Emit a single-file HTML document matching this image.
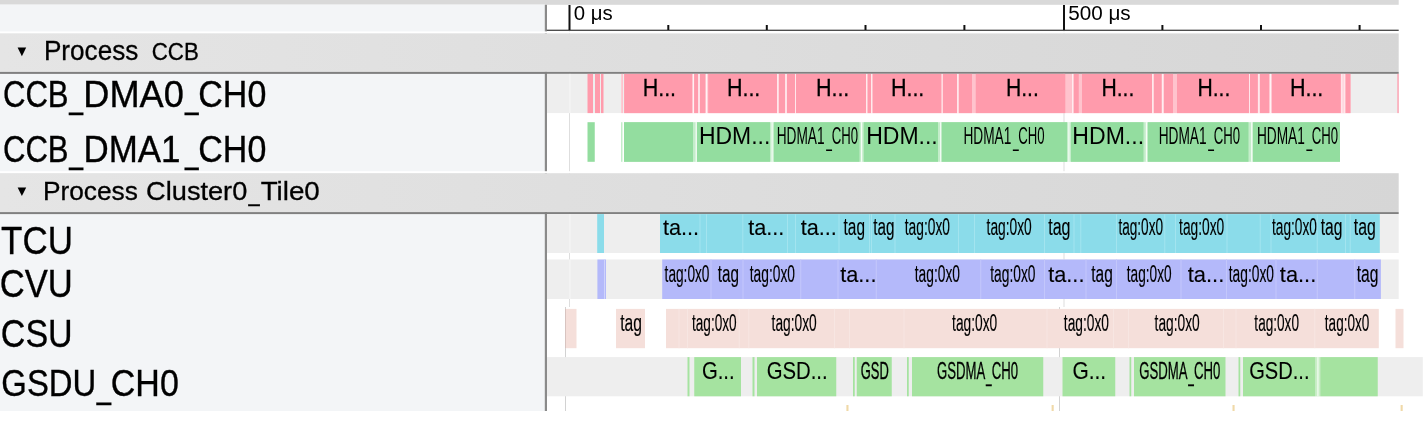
<!DOCTYPE html>
<html><head><meta charset="utf-8"><title>Trace viewer</title>
<style>
html,body{margin:0;padding:0;background:#fff;}
body{width:1428px;height:431px;overflow:hidden;}
svg{display:block;font-family:"Liberation Sans",sans-serif;}
</style></head><body>
<svg width="1428" height="431" viewBox="0 0 1428 431">
<rect x="0.00" y="0.00" width="1398.70" height="4.80" fill="#d9d9d9"/>
<rect x="0.00" y="4.50" width="545.00" height="406.50" fill="#f3f5f7"/>
<rect x="569.00" y="31.00" width="1.00" height="276.00" fill="#dedede"/>
<rect x="1063.50" y="31.00" width="1.00" height="276.00" fill="#dedede"/>
<rect x="565.00" y="307.00" width="1.00" height="104.00" fill="#d2d2d2"/>
<rect x="1059.00" y="307.00" width="1.00" height="104.00" fill="#d2d2d2"/>
<rect x="544.80" y="4.80" width="2.20" height="406.20" fill="#8a8a8a"/>
<rect x="546.75" y="29.70" width="851.95" height="1.10" fill="#222"/>
<rect x="568.50" y="5.00" width="2.00" height="25.00" fill="#111"/>
<rect x="1063.00" y="5.00" width="2.00" height="25.00" fill="#111"/>
<rect x="667.30" y="25.00" width="2.00" height="5.00" fill="#111"/>
<rect x="765.80" y="25.00" width="2.00" height="5.00" fill="#111"/>
<rect x="864.50" y="25.00" width="2.00" height="5.00" fill="#111"/>
<rect x="963.40" y="25.00" width="2.00" height="5.00" fill="#111"/>
<rect x="1161.40" y="25.00" width="2.00" height="5.00" fill="#111"/>
<rect x="1260.00" y="25.00" width="2.00" height="5.00" fill="#111"/>
<rect x="1358.60" y="25.00" width="2.00" height="5.00" fill="#111"/>
<text transform="translate(573.73,19.50) scale(1.0168,1)" font-size="20.07" fill="#000">0 μs</text>
<text transform="translate(1068.17,19.50) scale(1.0311,1)" font-size="20.07" fill="#000">500 μs</text>
<defs><linearGradient id="hg" gradientUnits="userSpaceOnUse" x1="0" y1="0" x2="1870" y2="0"><stop offset="0" stop-color="#e5e5e5"/><stop offset="1" stop-color="#d1d1d1"/></linearGradient></defs>
<rect x="0.00" y="31.40" width="1398.70" height="2.00" fill="#fff"/>
<rect x="0" y="33.4" width="1398.7" height="38.50000000000001" fill="url(#hg)"/>
<rect x="0.00" y="71.90" width="1398.70" height="2.00" fill="#808080"/>
<rect x="0.00" y="171.20" width="1398.70" height="2.00" fill="#fff"/>
<rect x="0" y="173.2" width="1398.7" height="38.900000000000006" fill="url(#hg)"/>
<rect x="0.00" y="212.10" width="1398.70" height="2.00" fill="#808080"/>
<polygon points="17.6,47.6 26.2,47.6 21.9,56.2" fill="#000"/>
<polygon points="17.6,187.5 26.2,187.5 21.9,196.1" fill="#000"/>
<text transform="translate(43.91,60.30) scale(0.9670,1)" font-size="27.05" fill="#000" stroke="#000" stroke-width="0.3">Process</text>
<text transform="translate(151.79,60.00) scale(0.9231,1)" font-size="24.15" fill="#000" stroke="#000" stroke-width="0.3">CCB</text>
<text y="200.00" font-size="26.18" fill="#000" stroke="#000" stroke-width="0.3"><tspan x="42.90" textLength="102.33" lengthAdjust="spacingAndGlyphs">Process </tspan><tspan x="146.14" textLength="101.16" lengthAdjust="spacingAndGlyphs">Cluster0</tspan><tspan x="248.60" dy="1.40" textLength="11.17" lengthAdjust="spacingAndGlyphs">_</tspan><tspan x="260.70" dy="-1.40" textLength="59.11" lengthAdjust="spacingAndGlyphs">Tile0</tspan></text>
<text y="107.00" font-size="36.36" fill="#000" stroke="#000" stroke-width="0.35"><tspan x="2.95" textLength="65.65" lengthAdjust="spacingAndGlyphs">CCB</tspan><tspan x="69.18" dy="1.20" textLength="13.79" lengthAdjust="spacingAndGlyphs">_</tspan><tspan x="83.36" dy="-1.20" textLength="100.53" lengthAdjust="spacingAndGlyphs">DMA0</tspan><tspan x="184.93" dy="1.20" textLength="13.55" lengthAdjust="spacingAndGlyphs">_</tspan><tspan x="198.30" dy="-1.20" textLength="67.99" lengthAdjust="spacingAndGlyphs">CH0</tspan></text>
<text y="162.20" font-size="36.95" fill="#000" stroke="#000" stroke-width="0.35"><tspan x="2.95" textLength="65.65" lengthAdjust="spacingAndGlyphs">CCB</tspan><tspan x="69.18" dy="1.20" textLength="13.79" lengthAdjust="spacingAndGlyphs">_</tspan><tspan x="83.46" dy="-1.20" textLength="96.98" lengthAdjust="spacingAndGlyphs">DMA1</tspan><tspan x="184.93" dy="1.20" textLength="13.55" lengthAdjust="spacingAndGlyphs">_</tspan><tspan x="198.30" dy="-1.20" textLength="67.99" lengthAdjust="spacingAndGlyphs">CH0</tspan></text>
<text transform="translate(1.10,254.00) scale(0.8834,1)" font-size="39.56" fill="#000" stroke="#000" stroke-width="0.35">TCU</text>
<text transform="translate(-0.23,297.00) scale(0.8981,1)" font-size="38.55" fill="#000" stroke="#000" stroke-width="0.35">CVU</text>
<text transform="translate(0.80,346.80) scale(0.8641,1)" font-size="39.42" fill="#000" stroke="#000" stroke-width="0.35">CSU</text>
<text y="396.40" font-size="37.67" fill="#000" stroke="#000" stroke-width="0.35"><tspan x="1.36" textLength="94.83" lengthAdjust="spacingAndGlyphs">GSDU</tspan><tspan x="96.70" dy="1.30" textLength="14.26" lengthAdjust="spacingAndGlyphs">_</tspan><tspan x="110.80" dy="-1.30" textLength="67.99" lengthAdjust="spacingAndGlyphs">CH0</tspan></text>
<rect x="547.00" y="73.90" width="851.70" height="39.20" fill="#eeeeee"/>
<rect x="569.30" y="73.90" width="1.20" height="39.20" fill="#f6f6f6"/>
<rect x="1063.40" y="73.90" width="1.20" height="39.20" fill="#f6f6f6"/>
<rect x="624.00" y="73.90" width="726.50" height="39.20" fill="#ffc3cd"/>
<rect x="621.25" y="73.90" width="1.75" height="39.20" fill="#ffc3cd"/>
<rect x="587.50" y="73.90" width="5.50" height="39.20" fill="#ff9bac"/>
<rect x="595.00" y="73.90" width="5.00" height="39.20" fill="#ff9bac"/>
<rect x="601.00" y="73.90" width="2.50" height="39.20" fill="#ff9bac"/>
<rect x="624.20" y="73.90" width="68.20" height="39.20" fill="#ff9bac"/>
<rect x="694.20" y="73.90" width="3.90" height="39.20" fill="#ff9bac"/>
<rect x="699.90" y="73.90" width="5.20" height="39.20" fill="#ff9bac"/>
<rect x="708.20" y="73.90" width="68.80" height="39.20" fill="#ff9bac"/>
<rect x="778.75" y="73.90" width="6.25" height="39.20" fill="#ff9bac"/>
<rect x="787.00" y="73.90" width="8.00" height="39.20" fill="#ff9bac"/>
<rect x="796.00" y="73.90" width="70.00" height="39.20" fill="#ff9bac"/>
<rect x="867.50" y="73.90" width="3.50" height="39.20" fill="#ff9bac"/>
<rect x="872.50" y="73.90" width="69.00" height="39.20" fill="#ff9bac"/>
<rect x="942.75" y="73.90" width="14.25" height="39.20" fill="#ff9bac"/>
<rect x="958.75" y="73.90" width="13.25" height="39.20" fill="#ff9bac"/>
<rect x="975.75" y="73.90" width="89.55" height="39.20" fill="#ff9bac"/>
<rect x="1073.50" y="73.90" width="5.25" height="39.20" fill="#ff9bac"/>
<rect x="1082.00" y="73.90" width="70.00" height="39.20" fill="#ff9bac"/>
<rect x="1153.75" y="73.90" width="7.75" height="39.20" fill="#ff9bac"/>
<rect x="1164.00" y="73.90" width="9.00" height="39.20" fill="#ff9bac"/>
<rect x="1177.00" y="73.90" width="72.00" height="39.20" fill="#ff9bac"/>
<rect x="1250.00" y="73.90" width="7.75" height="39.20" fill="#ff9bac"/>
<rect x="1260.00" y="73.90" width="9.00" height="39.20" fill="#ff9bac"/>
<rect x="1272.00" y="73.90" width="68.90" height="39.20" fill="#ff9bac"/>
<rect x="1345.30" y="73.90" width="5.20" height="39.20" fill="#ff9bac"/>
<rect x="1397.40" y="73.90" width="1.30" height="39.20" fill="#ff9bac"/>
<rect x="1072.20" y="73.90" width="1.20" height="39.20" fill="#fff" opacity="0.85"/>
<rect x="1340.90" y="73.90" width="4.40" height="39.20" fill="#ffe6ea"/>
<rect x="1342.70" y="73.90" width="0.80" height="39.20" fill="#ffc8d1"/>
<rect x="692.65" y="73.90" width="1.30" height="39.20" fill="#fff" opacity="0.8"/>
<rect x="698.35" y="73.90" width="1.30" height="39.20" fill="#fff" opacity="0.8"/>
<rect x="706.00" y="73.90" width="1.30" height="39.20" fill="#fff" opacity="0.8"/>
<rect x="777.23" y="73.90" width="1.30" height="39.20" fill="#fff" opacity="0.8"/>
<rect x="785.35" y="73.90" width="1.30" height="39.20" fill="#fff" opacity="0.8"/>
<rect x="795.12" y="73.90" width="0.75" height="39.20" fill="#fff" opacity="0.8"/>
<rect x="866.19" y="73.90" width="1.12" height="39.20" fill="#fff" opacity="0.8"/>
<rect x="871.19" y="73.90" width="1.12" height="39.20" fill="#fff" opacity="0.8"/>
<rect x="941.66" y="73.90" width="0.94" height="39.20" fill="#fff" opacity="0.8"/>
<rect x="957.23" y="73.90" width="1.30" height="39.20" fill="#fff" opacity="0.8"/>
<rect x="1152.22" y="73.90" width="1.30" height="39.20" fill="#fff" opacity="0.8"/>
<rect x="1162.10" y="73.90" width="1.30" height="39.20" fill="#fff" opacity="0.8"/>
<rect x="1249.12" y="73.90" width="0.75" height="39.20" fill="#fff" opacity="0.8"/>
<rect x="1258.22" y="73.90" width="1.30" height="39.20" fill="#fff" opacity="0.8"/>
<rect x="1269.85" y="73.90" width="1.30" height="39.20" fill="#fff" opacity="0.8"/>
<text transform="translate(642.63,96.00) scale(0.8753,1)" font-size="24.58" fill="#000" stroke="#000" stroke-width="0.25">H...</text>
<text transform="translate(726.88,96.00) scale(0.8753,1)" font-size="24.58" fill="#000" stroke="#000" stroke-width="0.25">H...</text>
<text transform="translate(815.88,96.00) scale(0.8753,1)" font-size="24.58" fill="#000" stroke="#000" stroke-width="0.25">H...</text>
<text transform="translate(890.88,96.00) scale(0.8753,1)" font-size="24.58" fill="#000" stroke="#000" stroke-width="0.25">H...</text>
<text transform="translate(1005.91,96.00) scale(0.8606,1)" font-size="24.58" fill="#000" stroke="#000" stroke-width="0.25">H...</text>
<text transform="translate(1101.41,96.00) scale(0.8606,1)" font-size="24.58" fill="#000" stroke="#000" stroke-width="0.25">H...</text>
<text transform="translate(1197.41,96.00) scale(0.8606,1)" font-size="24.58" fill="#000" stroke="#000" stroke-width="0.25">H...</text>
<text transform="translate(1289.88,96.00) scale(0.8753,1)" font-size="24.58" fill="#000" stroke="#000" stroke-width="0.25">H...</text>
<rect x="621.00" y="122.20" width="1.50" height="39.60" fill="#c4edca"/>
<rect x="624.00" y="122.20" width="716.00" height="39.60" fill="#c4edca"/>
<rect x="587.50" y="122.20" width="7.25" height="39.60" fill="#93dd9f"/>
<rect x="624.00" y="122.20" width="69.00" height="39.60" fill="#93dd9f"/>
<rect x="697.00" y="122.20" width="73.00" height="39.60" fill="#93dd9f"/>
<rect x="774.00" y="122.20" width="85.50" height="39.60" fill="#93dd9f"/>
<rect x="863.75" y="122.20" width="74.25" height="39.60" fill="#93dd9f"/>
<rect x="941.50" y="122.20" width="125.50" height="39.60" fill="#93dd9f"/>
<rect x="1071.00" y="122.20" width="72.50" height="39.60" fill="#93dd9f"/>
<rect x="1148.00" y="122.20" width="100.50" height="39.60" fill="#93dd9f"/>
<rect x="1253.00" y="122.20" width="87.00" height="39.60" fill="#93dd9f"/>
<text transform="translate(698.97,143.90) scale(0.9669,1)" font-size="23.71" fill="#000">HDM...</text>
<text transform="translate(866.16,143.90) scale(0.9712,1)" font-size="23.71" fill="#000">HDM...</text>
<text transform="translate(1072.36,143.90) scale(0.9727,1)" font-size="23.71" fill="#000">HDM...</text>
<text y="143.90" font-size="24.44" fill="#000"><tspan x="776.71" textLength="47.85" lengthAdjust="spacingAndGlyphs">HDMA1</tspan><tspan x="826.18" dy="1.80" textLength="5.70" lengthAdjust="spacingAndGlyphs">_</tspan><tspan x="831.64" dy="-1.80" textLength="26.36" lengthAdjust="spacingAndGlyphs">CH0</tspan></text>
<text y="143.90" font-size="24.44" fill="#000"><tspan x="963.41" textLength="47.85" lengthAdjust="spacingAndGlyphs">HDMA1</tspan><tspan x="1012.88" dy="1.80" textLength="5.70" lengthAdjust="spacingAndGlyphs">_</tspan><tspan x="1018.34" dy="-1.80" textLength="26.36" lengthAdjust="spacingAndGlyphs">CH0</tspan></text>
<text y="143.90" font-size="24.44" fill="#000"><tspan x="1158.71" textLength="47.85" lengthAdjust="spacingAndGlyphs">HDMA1</tspan><tspan x="1208.18" dy="1.80" textLength="5.70" lengthAdjust="spacingAndGlyphs">_</tspan><tspan x="1213.64" dy="-1.80" textLength="26.36" lengthAdjust="spacingAndGlyphs">CH0</tspan></text>
<text y="143.90" font-size="24.44" fill="#000"><tspan x="1256.91" textLength="47.85" lengthAdjust="spacingAndGlyphs">HDMA1</tspan><tspan x="1306.38" dy="1.80" textLength="5.70" lengthAdjust="spacingAndGlyphs">_</tspan><tspan x="1311.84" dy="-1.80" textLength="26.36" lengthAdjust="spacingAndGlyphs">CH0</tspan></text>
<rect x="695.60" y="122.20" width="1.20" height="39.60" fill="#fff" opacity="0.85"/>
<rect x="771.50" y="122.20" width="1.20" height="39.60" fill="#fff" opacity="0.85"/>
<rect x="861.00" y="122.20" width="1.20" height="39.60" fill="#fff" opacity="0.85"/>
<rect x="940.10" y="122.20" width="1.20" height="39.60" fill="#fff" opacity="0.85"/>
<rect x="1068.30" y="122.20" width="1.20" height="39.60" fill="#fff" opacity="0.85"/>
<rect x="1145.80" y="122.20" width="1.20" height="39.60" fill="#fff" opacity="0.85"/>
<rect x="1251.10" y="122.20" width="1.20" height="39.60" fill="#fff" opacity="0.85"/>
<rect x="547.00" y="214.10" width="851.70" height="38.90" fill="#eeeeee"/>
<rect x="569.30" y="214.10" width="1.20" height="38.90" fill="#f6f6f6"/>
<rect x="1063.40" y="214.10" width="1.20" height="38.90" fill="#f6f6f6"/>
<rect x="597.20" y="214.10" width="6.80" height="38.90" fill="#8bdcea"/>
<rect x="660.00" y="214.10" width="719.80" height="38.90" fill="#8bdcea"/>
<rect x="699.50" y="214.10" width="1.00" height="38.90" fill="#a3e4ef"/>
<rect x="706.00" y="214.10" width="1.00" height="38.90" fill="#a3e4ef"/>
<rect x="742.30" y="214.10" width="1.00" height="38.90" fill="#a3e4ef"/>
<rect x="787.00" y="214.10" width="1.00" height="38.90" fill="#a3e4ef"/>
<rect x="795.00" y="214.10" width="1.00" height="38.90" fill="#a3e4ef"/>
<rect x="838.50" y="214.10" width="1.00" height="38.90" fill="#a3e4ef"/>
<rect x="869.00" y="214.10" width="1.00" height="38.90" fill="#a3e4ef"/>
<rect x="871.00" y="214.10" width="1.00" height="38.90" fill="#a3e4ef"/>
<rect x="894.50" y="214.10" width="1.00" height="38.90" fill="#a3e4ef"/>
<rect x="958.00" y="214.10" width="1.00" height="38.90" fill="#a3e4ef"/>
<rect x="974.00" y="214.10" width="1.00" height="38.90" fill="#a3e4ef"/>
<rect x="1044.00" y="214.10" width="1.00" height="38.90" fill="#a3e4ef"/>
<rect x="1073.50" y="214.10" width="1.00" height="38.90" fill="#a3e4ef"/>
<rect x="1080.25" y="214.10" width="1.00" height="38.90" fill="#a3e4ef"/>
<rect x="1116.00" y="214.10" width="1.00" height="38.90" fill="#a3e4ef"/>
<rect x="1164.25" y="214.10" width="1.00" height="38.90" fill="#a3e4ef"/>
<rect x="1175.00" y="214.10" width="1.00" height="38.90" fill="#a3e4ef"/>
<rect x="1226.50" y="214.10" width="1.00" height="38.90" fill="#a3e4ef"/>
<rect x="1259.75" y="214.10" width="1.00" height="38.90" fill="#a3e4ef"/>
<rect x="1270.50" y="214.10" width="1.00" height="38.90" fill="#a3e4ef"/>
<rect x="1316.75" y="214.10" width="1.00" height="38.90" fill="#a3e4ef"/>
<rect x="1345.00" y="214.10" width="1.00" height="38.90" fill="#a3e4ef"/>
<rect x="1349.75" y="214.10" width="1.00" height="38.90" fill="#a3e4ef"/>
<text transform="translate(662.97,235.00) scale(0.9663,1)" font-size="22.45" fill="#000" stroke="#000" stroke-width="0.12">ta...</text>
<text transform="translate(748.17,235.00) scale(0.9663,1)" font-size="22.45" fill="#000" stroke="#000" stroke-width="0.12">ta...</text>
<text transform="translate(800.67,235.00) scale(0.9663,1)" font-size="22.45" fill="#000" stroke="#000" stroke-width="0.12">ta...</text>
<text transform="translate(843.57,234.90) scale(0.6428,1)" font-size="23.94" fill="#000" stroke="#000" stroke-width="0.15">tag</text>
<text transform="translate(873.27,234.90) scale(0.6364,1)" font-size="23.94" fill="#000" stroke="#000" stroke-width="0.15">tag</text>
<text transform="translate(1048.26,234.90) scale(0.6683,1)" font-size="23.94" fill="#000" stroke="#000" stroke-width="0.15">tag</text>
<text transform="translate(1320.77,234.90) scale(0.6524,1)" font-size="23.94" fill="#000" stroke="#000" stroke-width="0.15">tag</text>
<text transform="translate(1353.76,234.90) scale(0.6603,1)" font-size="23.94" fill="#000" stroke="#000" stroke-width="0.15">tag</text>
<text transform="translate(904.79,234.90) scale(0.5759,1)" font-size="23.94" fill="#000" stroke="#000" stroke-width="0.15">tag:0x0</text>
<text transform="translate(986.59,234.90) scale(0.5759,1)" font-size="23.94" fill="#000" stroke="#000" stroke-width="0.15">tag:0x0</text>
<text transform="translate(1118.40,234.90) scale(0.5694,1)" font-size="23.94" fill="#000" stroke="#000" stroke-width="0.15">tag:0x0</text>
<text transform="translate(1179.09,234.90) scale(0.5759,1)" font-size="23.94" fill="#000" stroke="#000" stroke-width="0.15">tag:0x0</text>
<text transform="translate(1271.99,234.90) scale(0.5720,1)" font-size="23.94" fill="#000" stroke="#000" stroke-width="0.15">tag:0x0</text>
<rect x="547.00" y="259.50" width="851.70" height="39.50" fill="#eeeeee"/>
<rect x="569.30" y="259.50" width="1.20" height="39.50" fill="#f6f6f6"/>
<rect x="1063.40" y="259.50" width="1.20" height="39.50" fill="#f6f6f6"/>
<rect x="597.40" y="259.50" width="8.60" height="39.50" fill="#b4b9fa"/>
<rect x="604.00" y="259.50" width="0.90" height="39.50" fill="#d3d6fc"/>
<rect x="662.20" y="259.50" width="718.70" height="39.50" fill="#b4b9fa"/>
<rect x="710.50" y="259.50" width="1.00" height="39.50" fill="#c3c7fb"/>
<rect x="742.50" y="259.50" width="1.00" height="39.50" fill="#c3c7fb"/>
<rect x="800.25" y="259.50" width="1.00" height="39.50" fill="#c3c7fb"/>
<rect x="837.50" y="259.50" width="1.00" height="39.50" fill="#c3c7fb"/>
<rect x="875.75" y="259.50" width="1.00" height="39.50" fill="#c3c7fb"/>
<rect x="980.25" y="259.50" width="1.00" height="39.50" fill="#c3c7fb"/>
<rect x="1044.00" y="259.50" width="1.00" height="39.50" fill="#c3c7fb"/>
<rect x="1085.50" y="259.50" width="1.00" height="39.50" fill="#c3c7fb"/>
<rect x="1116.00" y="259.50" width="1.00" height="39.50" fill="#c3c7fb"/>
<rect x="1180.50" y="259.50" width="1.00" height="39.50" fill="#c3c7fb"/>
<rect x="1226.00" y="259.50" width="1.00" height="39.50" fill="#c3c7fb"/>
<rect x="1275.50" y="259.50" width="1.00" height="39.50" fill="#c3c7fb"/>
<rect x="1316.75" y="259.50" width="1.00" height="39.50" fill="#c3c7fb"/>
<rect x="1354.25" y="259.50" width="1.00" height="39.50" fill="#c3c7fb"/>
<text transform="translate(840.17,281.90) scale(0.9867,1)" font-size="22.05" fill="#000" stroke="#000" stroke-width="0.12">ta...</text>
<text transform="translate(1048.17,281.90) scale(0.9867,1)" font-size="22.05" fill="#000" stroke="#000" stroke-width="0.12">ta...</text>
<text transform="translate(1187.67,281.90) scale(0.9954,1)" font-size="22.05" fill="#000" stroke="#000" stroke-width="0.12">ta...</text>
<text transform="translate(1279.87,281.90) scale(0.9896,1)" font-size="22.05" fill="#000" stroke="#000" stroke-width="0.12">ta...</text>
<text transform="translate(717.77,281.80) scale(0.6481,1)" font-size="23.51" fill="#000" stroke="#000" stroke-width="0.15">tag</text>
<text transform="translate(1091.27,281.80) scale(0.6578,1)" font-size="23.51" fill="#000" stroke="#000" stroke-width="0.15">tag</text>
<text transform="translate(1356.77,281.80) scale(0.6643,1)" font-size="23.51" fill="#000" stroke="#000" stroke-width="0.15">tag</text>
<text transform="translate(664.59,281.80) scale(0.5824,1)" font-size="23.51" fill="#000" stroke="#000" stroke-width="0.15">tag:0x0</text>
<text transform="translate(749.79,281.80) scale(0.5864,1)" font-size="23.51" fill="#000" stroke="#000" stroke-width="0.15">tag:0x0</text>
<text transform="translate(914.79,281.80) scale(0.5864,1)" font-size="23.51" fill="#000" stroke="#000" stroke-width="0.15">tag:0x0</text>
<text transform="translate(990.29,281.80) scale(0.5864,1)" font-size="23.51" fill="#000" stroke="#000" stroke-width="0.15">tag:0x0</text>
<text transform="translate(1126.80,281.80) scale(0.5811,1)" font-size="23.51" fill="#000" stroke="#000" stroke-width="0.15">tag:0x0</text>
<text transform="translate(1228.79,281.80) scale(0.5864,1)" font-size="23.51" fill="#000" stroke="#000" stroke-width="0.15">tag:0x0</text>
<rect x="565.00" y="308.90" width="11.50" height="39.30" fill="#f5dfda"/>
<rect x="616.00" y="308.90" width="29.00" height="39.30" fill="#f5dfda"/>
<rect x="666.00" y="308.90" width="712.80" height="39.30" fill="#f5dfda"/>
<rect x="1395.50" y="308.90" width="8.00" height="39.30" fill="#f5dfda"/>
<rect x="565.00" y="308.90" width="1.00" height="39.30" fill="#d8c4c0"/>
<rect x="678.50" y="308.90" width="1.00" height="39.30" fill="#f7e6e2"/>
<rect x="687.00" y="308.90" width="1.00" height="39.30" fill="#f7e6e2"/>
<rect x="738.75" y="308.90" width="1.00" height="39.30" fill="#f7e6e2"/>
<rect x="748.25" y="308.90" width="1.00" height="39.30" fill="#f7e6e2"/>
<rect x="834.00" y="308.90" width="1.00" height="39.30" fill="#f7e6e2"/>
<rect x="849.00" y="308.90" width="1.00" height="39.30" fill="#f7e6e2"/>
<rect x="903.50" y="308.90" width="1.00" height="39.30" fill="#f7e6e2"/>
<rect x="1046.50" y="308.90" width="1.00" height="39.30" fill="#f7e6e2"/>
<rect x="1113.00" y="308.90" width="1.00" height="39.30" fill="#f7e6e2"/>
<rect x="1128.00" y="308.90" width="1.00" height="39.30" fill="#f7e6e2"/>
<rect x="1223.00" y="308.90" width="1.00" height="39.30" fill="#f7e6e2"/>
<rect x="1235.50" y="308.90" width="1.00" height="39.30" fill="#f7e6e2"/>
<rect x="1314.25" y="308.90" width="1.00" height="39.30" fill="#f7e6e2"/>
<text transform="translate(620.27,330.80) scale(0.6485,1)" font-size="24.09" fill="#000" stroke="#000" stroke-width="0.15">tag</text>
<text transform="translate(692.00,330.80) scale(0.5660,1)" font-size="24.09" fill="#000" stroke="#000" stroke-width="0.15">tag:0x0</text>
<text transform="translate(771.59,330.80) scale(0.5724,1)" font-size="24.09" fill="#000" stroke="#000" stroke-width="0.15">tag:0x0</text>
<text transform="translate(952.09,330.80) scale(0.5724,1)" font-size="24.09" fill="#000" stroke="#000" stroke-width="0.15">tag:0x0</text>
<text transform="translate(1063.84,330.80) scale(0.5724,1)" font-size="24.09" fill="#000" stroke="#000" stroke-width="0.15">tag:0x0</text>
<text transform="translate(1154.59,330.80) scale(0.5724,1)" font-size="24.09" fill="#000" stroke="#000" stroke-width="0.15">tag:0x0</text>
<text transform="translate(1254.35,330.80) scale(0.5654,1)" font-size="24.09" fill="#000" stroke="#000" stroke-width="0.15">tag:0x0</text>
<text transform="translate(1324.85,330.80) scale(0.5628,1)" font-size="24.09" fill="#000" stroke="#000" stroke-width="0.15">tag:0x0</text>
<rect x="547.00" y="357.10" width="875.80" height="39.20" fill="#eeeeee"/>
<rect x="1315.25" y="357.10" width="5.00" height="39.20" fill="#c9eec6"/>
<rect x="1317.30" y="357.10" width="1.20" height="39.20" fill="#fff" opacity="0.8"/>
<rect x="687.50" y="357.10" width="2.00" height="39.20" fill="#a5e3a0"/>
<rect x="694.25" y="357.10" width="46.75" height="39.20" fill="#a5e3a0"/>
<rect x="752.50" y="357.10" width="2.00" height="39.20" fill="#a5e3a0"/>
<rect x="757.00" y="357.10" width="79.25" height="39.20" fill="#a5e3a0"/>
<rect x="853.00" y="357.10" width="1.75" height="39.20" fill="#a5e3a0"/>
<rect x="856.75" y="357.10" width="35.00" height="39.20" fill="#a5e3a0"/>
<rect x="907.00" y="357.10" width="1.75" height="39.20" fill="#a5e3a0"/>
<rect x="912.00" y="357.10" width="131.25" height="39.20" fill="#a5e3a0"/>
<rect x="1062.50" y="357.10" width="52.75" height="39.20" fill="#a5e3a0"/>
<rect x="1129.50" y="357.10" width="1.75" height="39.20" fill="#a5e3a0"/>
<rect x="1134.00" y="357.10" width="91.50" height="39.20" fill="#a5e3a0"/>
<rect x="1238.50" y="357.10" width="1.75" height="39.20" fill="#a5e3a0"/>
<rect x="1243.00" y="357.10" width="72.25" height="39.20" fill="#a5e3a0"/>
<rect x="1320.25" y="357.10" width="57.50" height="39.20" fill="#a5e3a0"/>
<text transform="translate(701.88,379.20) scale(0.8201,1)" font-size="24.80" fill="#000" stroke="#000" stroke-width="0.12">G...</text>
<text transform="translate(1072.45,379.20) scale(0.8448,1)" font-size="24.80" fill="#000" stroke="#000" stroke-width="0.12">G...</text>
<text transform="translate(766.68,379.20) scale(0.8190,1)" font-size="24.80" fill="#000" stroke="#000" stroke-width="0.12">GSD...</text>
<text transform="translate(1249.19,379.20) scale(0.8106,1)" font-size="24.80" fill="#000" stroke="#000" stroke-width="0.12">GSD...</text>
<text transform="translate(860.76,379.20) scale(0.5324,1)" font-size="24.23" fill="#000" stroke="#000" stroke-width="0.4">GSD</text>
<text y="379.20" font-size="24.52" fill="#000" stroke="#000" stroke-width="0.3"><tspan x="937.04" textLength="48.29" lengthAdjust="spacingAndGlyphs">GSDMA</tspan><tspan x="985.88" dy="2.00" textLength="5.61" lengthAdjust="spacingAndGlyphs">_</tspan><tspan x="991.64" dy="-2.00" textLength="26.36" lengthAdjust="spacingAndGlyphs">CH0</tspan></text>
<text y="379.20" font-size="24.52" fill="#000" stroke="#000" stroke-width="0.3"><tspan x="1139.34" textLength="48.29" lengthAdjust="spacingAndGlyphs">GSDMA</tspan><tspan x="1188.18" dy="2.00" textLength="5.61" lengthAdjust="spacingAndGlyphs">_</tspan><tspan x="1193.94" dy="-2.00" textLength="26.36" lengthAdjust="spacingAndGlyphs">CH0</tspan></text>
<rect x="846.40" y="405.00" width="2.10" height="6.00" fill="#f0d9a8"/>
<rect x="1051.60" y="405.00" width="2.10" height="6.00" fill="#f0d9a8"/>
<rect x="1232.50" y="405.00" width="2.10" height="6.00" fill="#f0d9a8"/>
<rect x="1400.60" y="405.00" width="2.10" height="6.00" fill="#f0d9a8"/>
</svg>
</body></html>
